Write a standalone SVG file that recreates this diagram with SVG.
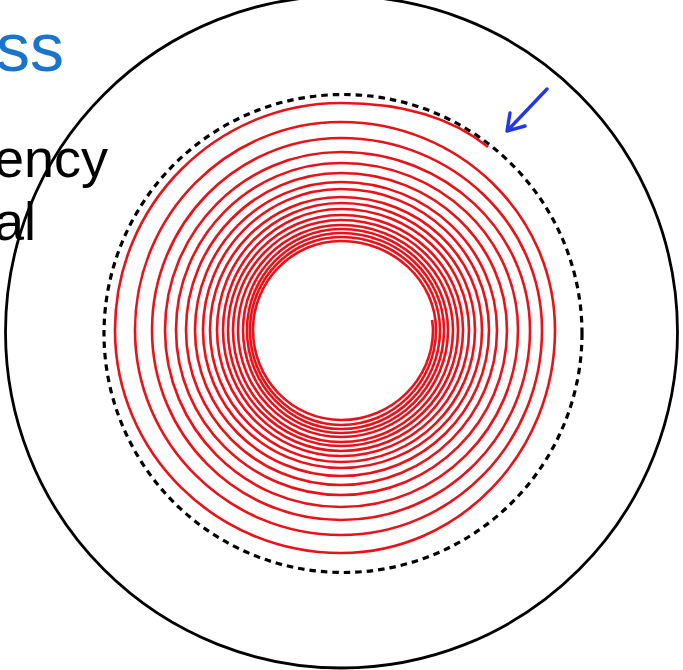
<svg xmlns="http://www.w3.org/2000/svg" width="683" height="670" viewBox="0 0 683 670">
<style>
.lbl{font-family:"Liberation Sans",Arial,sans-serif;}
.blk{fill:#000;font-size:54px;}
.blu{fill:#1a74c9;font-size:68px;}
.outer{fill:none;stroke:#000;stroke-width:2.8;}
.dash{fill:none;stroke:#000;stroke-width:3.2;stroke-dasharray:6.5 5;}
.spiral{fill:none;stroke:#e8121a;stroke-width:2.6;stroke-linecap:butt;}
.arr{fill:none;stroke:#2438e0;stroke-width:3.4;stroke-linecap:round;stroke-linejoin:round;}
</style>
<rect width="683" height="670" fill="#fff"/>
<g id="outer-circle"><circle class="outer" cx="341.5" cy="332" r="336"/></g>
<g id="dashed-circle"><circle class="dash" cx="343" cy="333.5" r="239"/></g>
<g id="spiral">
<path class="spiral" d="M488 147 C447.4 114.2 393 103 341 103
C216.2 103 115 204.7 115 330 C115 453.1 216.2 553 341 553 C459.1 553 555 453.1 555 330 C555 215.2 459.1 122 341 122
C227.3 122 135 215.2 135 330 C135 443.2 227.3 535 341 535 C452 535 542 443.2 542 330 C542 224 452 138 341 138
C236.7 138 152 224 152 330 C152 434.9 236.7 520 341 520 C445.3 520 530 434.9 530 330 C530 231.7 445.3 152 341 152
C243.8 152 165 231.7 165 330 C165 427.7 243.8 507 341 507 C438.7 507 518 427.7 518 330 C518 237.8 438.7 163 341 163
C249.9 163 176 237.8 176 330 C176 421.1 249.9 495 341 495 C432.6 495 507 421.1 507 330 C507 243.3 432.6 173 341 173
C255.4 173 186 243.3 186 330 C186 415.6 255.4 485 341 485 C427.1 485 497 415.6 497 330 C497 248.3 427.1 182 341 182
C260.4 182 195 248.3 195 330 C195 410.6 260.4 476 341 476 C422.7 476 489 410.6 489 330 C489 252.2 422.7 189 341 189
C264.8 189 203 252.2 203 330 C203 406.2 264.8 468 341 468 C418.8 468 482 406.2 482 330 C482 256.6 418.8 197 341 197
C268.7 197 210 256.6 210 330 C210 402.9 268.7 462 341 462 C415 462 475 402.9 475 330 C475 259.9 415 203 341 203
C272.6 203 217 259.9 217 330 C217 399.6 272.6 456 341 456 C411.7 456 469 399.6 469 330 C469 263.2 411.7 209 341 209
C275.9 209 223 263.2 223 330 C223 396.8 275.9 451 341 451 C408.3 451 463 396.8 463 330 C463 266.5 408.3 215 341 215
C278.6 215 228 266.5 228 330 C228 394 278.6 446 341 446 C405.6 446 458 394 458 330 C458 269.3 405.6 220 341 220
C281.4 220 233 269.3 233 330 C233 391.8 281.4 442 341 442 C402.8 442 453 391.8 453 330 C453 272 402.8 225 341 225
C284.1 225 238 272 238 330 C238 389.1 284.1 437 341 437 C400.1 437 448 389.1 448 330 C448 274.2 400.1 229 341 229
C286.9 229 243 274.2 243 330 C243 386.9 286.9 433 341 433 C397.9 433 444 386.9 444 330 C444 276.5 397.9 233 341 233
C289.1 233 247 276.5 247 330 C247 384.6 289.1 429 341 429 C395.6 429 440 384.6 440 330 C440 278.7 395.6 237 341 237
C290.8 237 250 278.7 250 330 C250 382.4 290.8 425 341 425 C393.4 425 436 382.4 436 330 C436 280.9 393.4 241 341 241
C292.4 241 253 280.9 253 330 C253 379.7 292.4 420 341 420 C391.8 420 433 379.7 433 330 C433 326.5 432.5 323.5 432 320"/>
</g>
<g id="connectors">
<path class="arr" d="M547 89 L508 130 M510 113 L507 131 L525 126"/>
</g>
<g id="label-ss"><text class="lbl blu" x="-4" y="71">ss</text></g>
<g id="label-ency"><text class="lbl blk" x="-6" y="177">ency</text></g>
<g id="label-al"><text class="lbl blk" x="-6" y="240">al</text></g>
</svg>
